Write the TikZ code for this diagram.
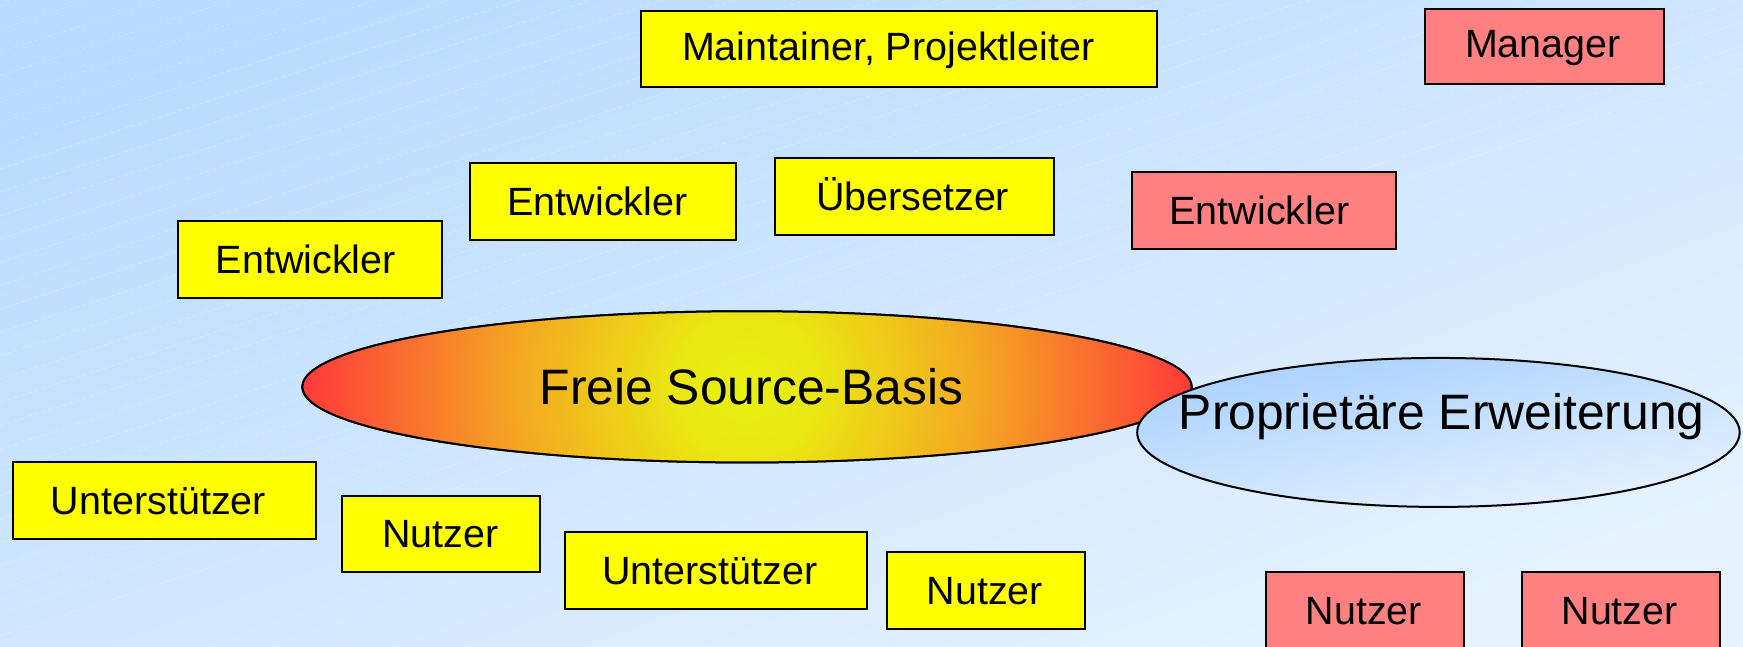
\documentclass[tikz,border=0pt]{standalone}
\usepackage{fontspec}
\setmainfont{Liberation Sans}
\usetikzlibrary{shapes.geometric}
\definecolor{bgA}{RGB}{186,219,255}
\definecolor{bgB}{RGB}{230,242,255}
\definecolor{boxY}{RGB}{255,255,0}
\definecolor{boxR}{RGB}{255,128,128}
\definecolor{fsbIn}{RGB}{232,242,16}
\definecolor{fsbMid}{RGB}{244,168,34}
\definecolor{fsbOut}{RGB}{255,58,58}
\definecolor{peTop}{RGB}{168,208,255}
\definecolor{peBot}{RGB}{232,243,255}
\pgfdeclareradialshading{fsbshade}{\pgfpoint{0bp}{0bp}}{color(0bp)=(fsbIn); color(4bp)=(fsbIn!85!fsbMid); color(13bp)=(fsbMid); color(25bp)=(fsbOut); color(50bp)=(fsbOut)}
\tikzset{
  rolebox/.style={draw=black, line width=1.8pt, inner sep=0pt, anchor=center},
  yel/.style={rolebox, fill=boxY},
  red/.style={rolebox, fill=boxR},
  roletext/.style={font=\fontsize{35.5}{40}\selectfont, inner sep=0pt},
  bigtext/.style={font=\fontsize{44.8}{50}\selectfont, inner sep=0pt},
  bigell/.style={ellipse, draw=black, line width=1.8pt, inner sep=0pt}
}
\begin{document}
\begin{tikzpicture}[x=1pt, y=-1pt]
\useasboundingbox (0,0) rectangle (1568,582);
\shade[top color=bgA, bottom color=bgB, shading angle=20] (0,0) rectangle (1568,582);
% faint background texture
\begin{scope}
\clip (0,0) rectangle (1568,582);
\foreach \k in {0,...,52} {
  \draw[white, opacity=0.28, line width=0.6pt, dash pattern=on 4pt off 2.5pt] (0,{-520+21*\k}) -- (1568,{-520+21*\k-510});
}
\end{scope}

% ellipses
\node[bigell, minimum width=800pt, minimum height=136pt] (fsb) at (672,348) {};
\begin{scope}
\clip (672,348) ellipse [x radius=400pt, y radius=68pt];
\shade[shading=fsbshade] (672,348) circle [radius=400pt];
\end{scope}
\node[bigell, minimum width=800pt, minimum height=136pt] (fsbb) at (672,348) {};
\node[bigtext] (fsbt) at (676,348) {Freie Source-Basis};
\node[bigell, top color=peTop, bottom color=peBot, shading angle=10, minimum width=542pt, minimum height=134pt] (pe) at (1294,389) {};
\node[bigtext] (pet) at (1297,375) {Proprietäre Erweiterung};

% yellow boxes
\node[yel, minimum width=464pt, minimum height=68pt] (maint) at (809,44) {};
\node[roletext] (mainttxt) at (799,45) {Maintainer, Projektleiter};
\node[yel, minimum width=239pt, minimum height=69pt] (ent1) at (542.5,181.5) {};
\node[roletext] (ent1t) at (537.5,181.5) {Entwickler};
\node[yel, minimum width=251pt, minimum height=69pt] (ueb) at (822.5,176.5) {};
\node[roletext] (uebt) at (821,175) {Übersetzer};
\node[yel, minimum width=238pt, minimum height=69pt] (ent0) at (279,233.5) {};
\node[roletext] (ent0t) at (275,233.5) {Entwickler};
\node[yel, minimum width=272pt, minimum height=69pt] (unt1) at (148,450.5) {};
\node[roletext] (unt1t) at (142.5,450.5) {Unterstützer};
\node[yel, minimum width=178pt, minimum height=69pt] (nutz1) at (397,480.5) {};
\node[roletext] (nutz1t) at (396,480.5) {Nutzer};
\node[yel, minimum width=272pt, minimum height=69pt] (unt2) at (644,513.5) {};
\node[roletext] (unt2t) at (638.5,513.5) {Unterstützer};
\node[yel, minimum width=178pt, minimum height=69pt] (nutz2) at (887,531.5) {};
\node[roletext] (nutz2t) at (886,531.5) {Nutzer};

% red boxes
\node[red, minimum width=215pt, minimum height=68pt] (mgr) at (1389.5,42) {};
\node[roletext] (mgrt) at (1388,43) {Manager};
\node[red, minimum width=238pt, minimum height=69pt] (ent2) at (1137,189.5) {};
\node[roletext] (ent2t) at (1133,189.5) {Entwickler};
\node[red, minimum width=178pt, minimum height=69pt] (nutz3) at (1228,549.5) {};
\node[roletext] (nutz3t) at (1227,549.5) {Nutzer};
\node[red, minimum width=178pt, minimum height=69pt] (nutz4) at (1458,549.5) {};
\node[roletext] (nutz4t) at (1457,549.5) {Nutzer};
\end{tikzpicture}
\end{document}
